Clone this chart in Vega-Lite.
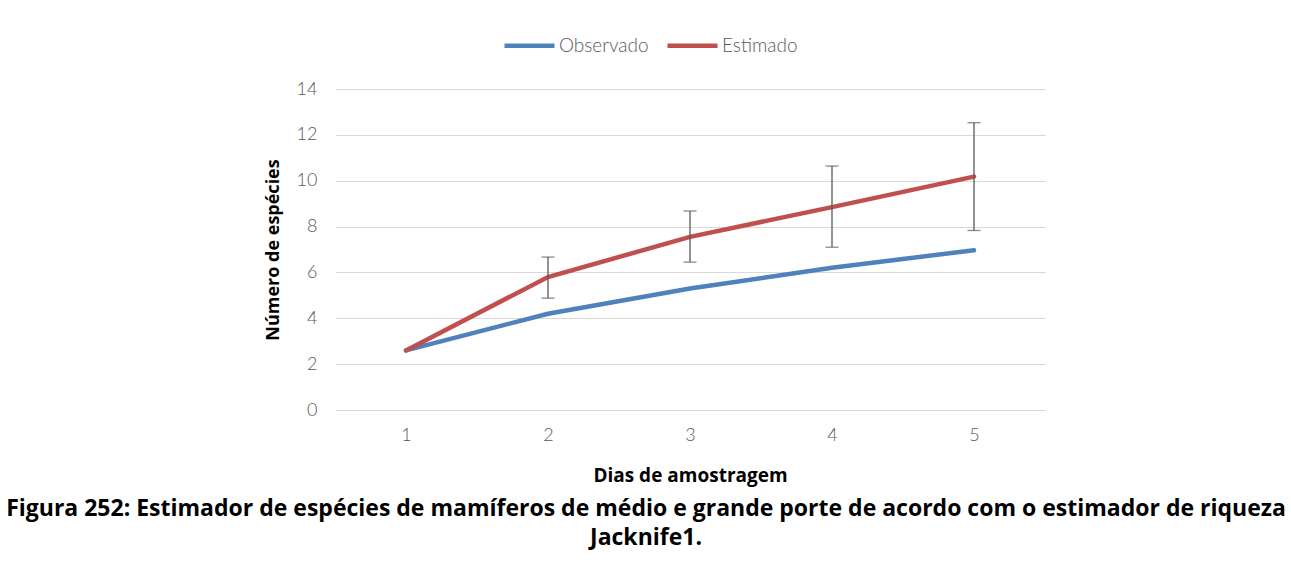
{
  "$schema": "https://vega.github.io/schema/vega-lite/v6.json",
  "width": 710,
  "height": 321,
  "autosize": {"type": "none"},
  "padding": {"left": 335, "top": 89, "right": 246, "bottom": 166},
  "background": "white",
  "config": {
    "font": "Lato",
    "view": {"stroke": null}
  },
  "title": {
    "text": ["Figura 252: Estimador de espécies de mamíferos de médio e grande porte de acordo com o estimador de riqueza", "Jacknife1."],
    "orient": "bottom",
    "anchor": "middle",
    "frame": "group",
    "dx": -44,
    "offset": 13,
    "font": "Open Sans",
    "fontSize": 23,
    "fontWeight": "bold",
    "color": "#000000",
    "lineHeight": 29
  },
  "data": {
    "values": [
      {"dia": "1", "serie": "Observado", "valor": 2.6},
      {"dia": "2", "serie": "Observado", "valor": 4.2},
      {"dia": "3", "serie": "Observado", "valor": 5.3},
      {"dia": "4", "serie": "Observado", "valor": 6.2},
      {"dia": "5", "serie": "Observado", "valor": 6.97},
      {"dia": "1", "serie": "Estimado", "valor": 2.6},
      {"dia": "2", "serie": "Estimado", "valor": 5.8, "lo": 4.88, "hi": 6.67},
      {"dia": "3", "serie": "Estimado", "valor": 7.55, "lo": 6.45, "hi": 8.68},
      {"dia": "4", "serie": "Estimado", "valor": 8.85, "lo": 7.1, "hi": 10.64},
      {"dia": "5", "serie": "Estimado", "valor": 10.18, "lo": 7.83, "hi": 12.53}
    ]
  },
  "encoding": {
    "x": {
      "field": "dia",
      "type": "ordinal",
      "scale": {"type": "point", "padding": 0.5},
      "axis": {
        "title": "Dias de amostragem",
        "titleFont": "Open Sans",
        "titleFontSize": 19,
        "titleFontWeight": "bold",
        "titleColor": "#000000",
        "titlePadding": 22,
        "labelAngle": 0,
        "labelFont": "Lato",
        "labelColor": "#595959",
        "labelFontSize": 18,
        "labelFontWeight": 300,
        "labelPadding": 16,
        "ticks": false,
        "domain": false,
        "grid": false
      }
    }
  },
  "layer": [
    {
      "mark": {"type": "line", "strokeWidth": 4.5, "strokeCap": "round"},
      "encoding": {
        "y": {
          "field": "valor",
          "type": "quantitative",
          "scale": {"domain": [0, 14], "nice": false},
          "axis": {
            "title": "Número de espécies",
            "titleFont": "Open Sans",
            "titleFontSize": 18,
            "titleFontWeight": "bold",
            "titleColor": "#000000",
            "titlePadding": 14,
            "values": [0, 2, 4, 6, 8, 10, 12, 14],
            "labelFont": "Lato",
            "labelColor": "#595959",
            "labelFontSize": 18,
            "labelFontWeight": 300,
            "labelPadding": 18,
            "ticks": false,
            "domain": false,
            "grid": true,
            "gridColor": "#d9d9d9",
            "gridWidth": 1
          }
        },
        "color": {
          "field": "serie",
          "type": "nominal",
          "scale": {"domain": ["Observado", "Estimado"], "range": ["#4F81BD", "#C0504D"]},
          "legend": {
            "title": null,
            "orient": "none",
            "direction": "horizontal",
            "legendX": 167,
            "legendY": -71,
            "symbolType": "stroke",
            "symbolSize": 2500,
            "symbolStrokeWidth": 4.5,
            "labelFont": "Lato",
            "labelFontSize": 19,
            "labelFontWeight": 300,
            "labelColor": "#595959",
            "labelOffset": 2,
            "columnPadding": 9
          }
        },
        "order": {"field": "dia", "type": "ordinal"}
      }
    },
    {
      "transform": [{"filter": "isValid(datum.lo)"}],
      "mark": {"type": "rule", "color": "#595959", "strokeWidth": 1.3},
      "encoding": {
        "y": {"field": "lo", "type": "quantitative"},
        "y2": {"field": "hi"}
      }
    },
    {
      "transform": [{"filter": "isValid(datum.lo)"}],
      "mark": {"type": "tick", "color": "#595959", "thickness": 1.3, "size": 13, "orient": "horizontal"},
      "encoding": {"y": {"field": "lo", "type": "quantitative"}}
    },
    {
      "transform": [{"filter": "isValid(datum.lo)"}],
      "mark": {"type": "tick", "color": "#595959", "thickness": 1.3, "size": 13, "orient": "horizontal"},
      "encoding": {"y": {"field": "hi", "type": "quantitative"}}
    }
  ]
}
